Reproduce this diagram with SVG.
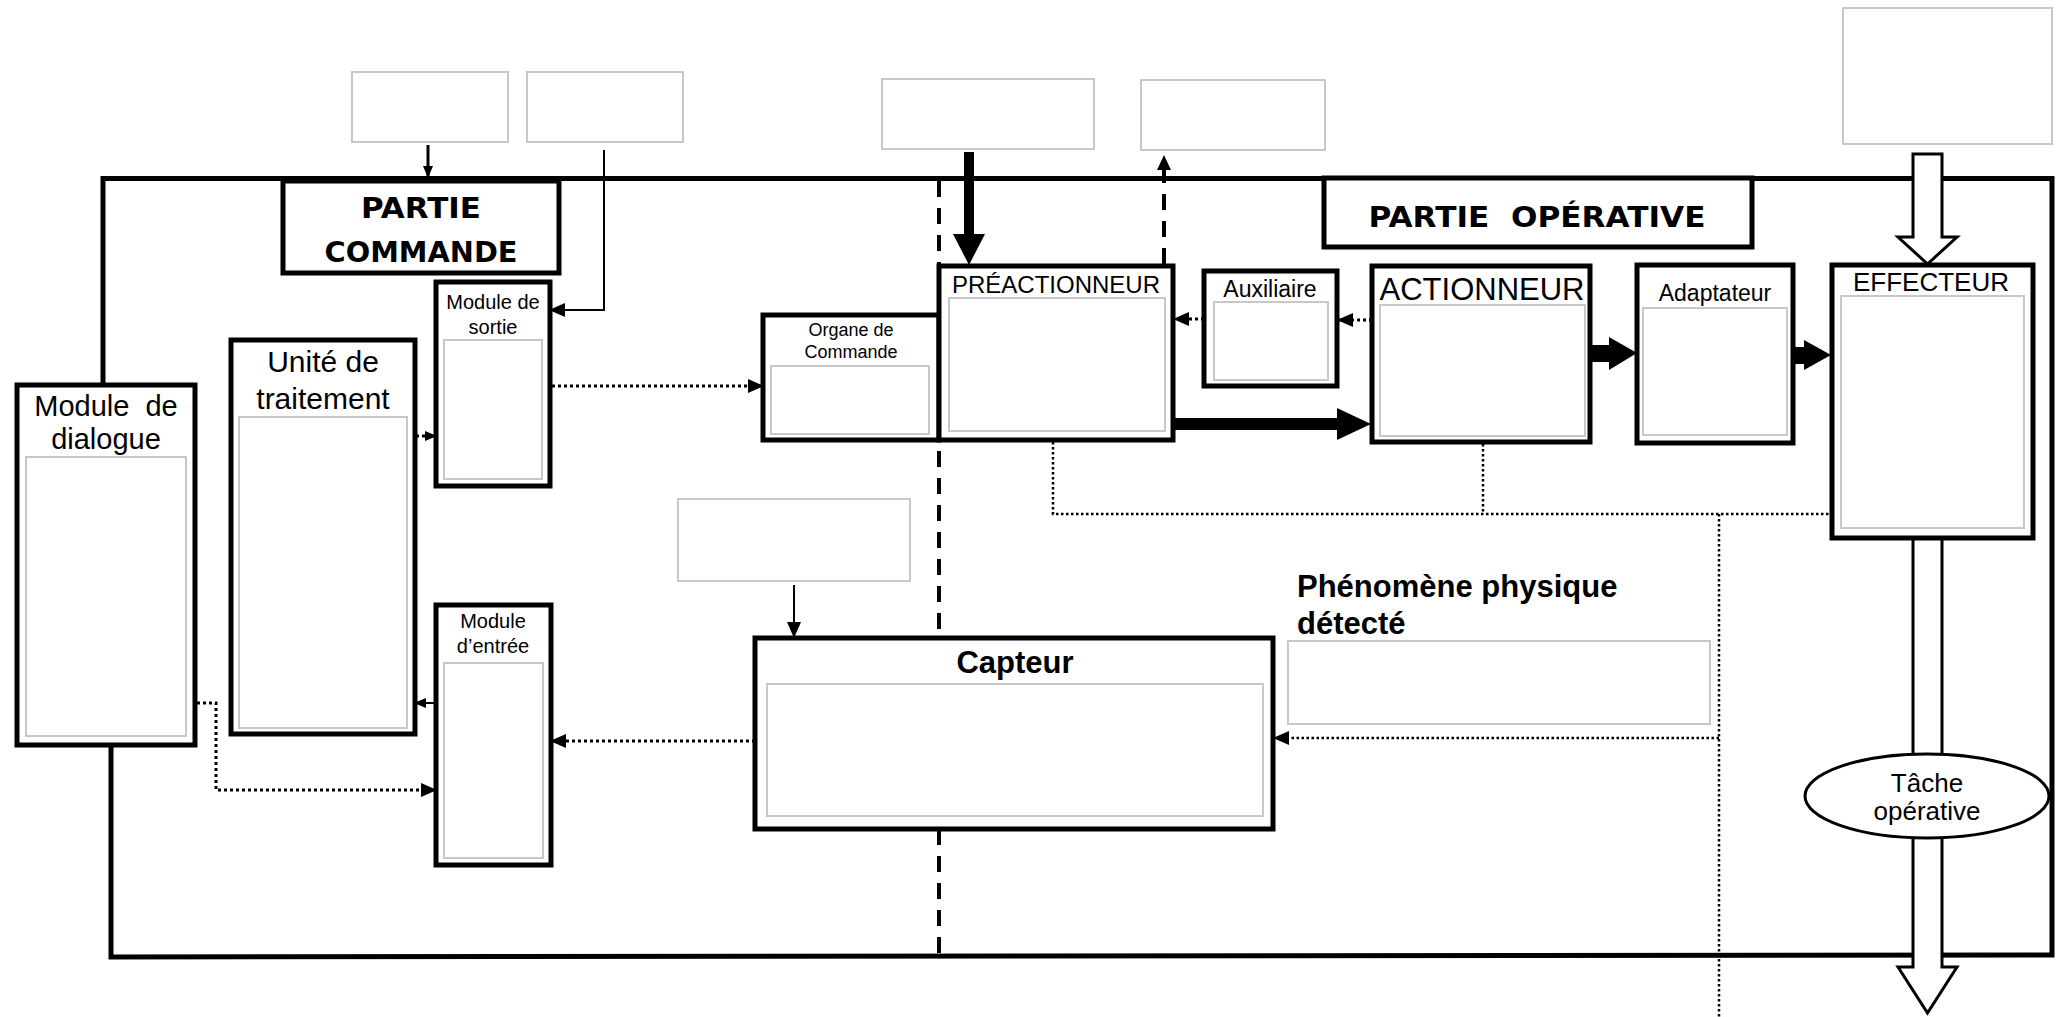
<svg xmlns="http://www.w3.org/2000/svg" width="2067" height="1017" viewBox="0 0 2067 1017">
<defs>
<style>
.node{fill:#fff;stroke:#000;stroke-width:5}
.inner{fill:none;stroke:#c8c8c8;stroke-width:2}
.gbox{fill:#fff;stroke:#c8c8c8;stroke-width:2}
.t{font-family:"Liberation Sans",Arial,sans-serif;fill:#000;text-anchor:middle}
.tb{font-family:"Liberation Sans",Arial,sans-serif;font-weight:bold;fill:#000}
.title{font-family:"DejaVu Sans","Liberation Sans",sans-serif;font-weight:bold;fill:#000;text-anchor:middle}
.frame{fill:none;stroke:#000;stroke-width:5}
.dot{fill:none;stroke:#000;stroke-width:3;stroke-dasharray:3 3}
.dot2{fill:none;stroke:#000;stroke-width:2.5;stroke-dasharray:2.5 2.5}
.dash{fill:none;stroke:#000;stroke-width:4;stroke-dasharray:16 11}
.solid{fill:none;stroke:#000;stroke-width:2}
.solid3{fill:none;stroke:#000;stroke-width:3}
.fat{fill:#000;stroke:none}
.hollow{fill:#fff;stroke:#000;stroke-width:3}
</style>
<marker id="ah" markerUnits="userSpaceOnUse" viewBox="0 0 16 16" markerWidth="16" markerHeight="16" refX="15" refY="8" orient="auto"><path d="M0,1 L16,8 L0,15 z"/></marker>
<marker id="ahs" markerUnits="userSpaceOnUse" viewBox="0 0 12 12" markerWidth="12" markerHeight="12" refX="11" refY="6" orient="auto"><path d="M0,1 L12,6 L0,11 z"/></marker>
</defs>

<g id="frame">
<path class="frame" d="M103,385 L103,178.5 L2052,178.5 L2052,955 L111,957 L111,745"/>
</g>

<g id="connectors">
<line class="dash" x1="939" y1="181" x2="939" y2="955"/>
<path class="dash" d="M1164,264 L1164,168"/>
<path d="M1157,170 L1164,155 L1171,170 z"/>
<polygon class="fat" points="964,152 974,152 974,234 985,234 969,265 953,234 964,234"/>
<polygon class="fat" points="1173,418 1337,418 1337,408 1371,424 1337,440 1337,430 1173,430"/>
<polygon class="fat" points="1590,345 1609,345 1609,337 1637,353 1609,370 1609,362 1590,362"/>
<polygon class="fat" points="1793,347 1804,347 1804,340 1831,355 1804,370 1804,364 1793,364"/>
<line class="solid3" x1="428" y1="145" x2="428" y2="177" marker-end="url(#ahs)"/>
<path class="solid" d="M604,150 L604,310 L550,310" marker-end="url(#ah)"/>
<line class="solid" x1="794" y1="585" x2="794" y2="637" marker-end="url(#ah)"/>
<line class="dot" x1="552" y1="386" x2="763" y2="386" marker-end="url(#ah)"/>
<line class="dot" x1="416" y1="436" x2="436" y2="436" marker-end="url(#ahs)"/>
<line class="solid" x1="436" y1="703" x2="415" y2="703" marker-end="url(#ahs)"/>
<path class="dot" d="M197,703 L216,703 L216,790 L436,790" marker-end="url(#ah)"/>
<line class="dot" x1="755" y1="741" x2="551" y2="741" marker-end="url(#ah)"/>
<line class="dot" x1="1204" y1="319" x2="1174" y2="319" marker-end="url(#ah)"/>
<line class="dot" x1="1372" y1="320" x2="1338" y2="320" marker-end="url(#ah)"/>
<path class="dot2" d="M1053,442 L1053,514 L1831,514"/>
<line class="dot2" x1="1483" y1="444" x2="1483" y2="514"/>
<line class="dot2" x1="1719" y1="514" x2="1719" y2="1017"/>
<line class="dot2" x1="1719" y1="738" x2="1274" y2="738" marker-end="url(#ah)"/>
<polygon class="hollow" points="1913,154 1942,154 1942,237 1957,237 1927.5,264 1898,237 1913,237"/>
<polygon class="hollow" points="1913,538 1942,538 1942,967 1957,967 1927.5,1013 1898,967 1913,967"/>
</g>

<g id="box-top1"><rect class="gbox" x="352" y="72" width="156" height="70"/></g>
<g id="box-top2"><rect class="gbox" x="527" y="72" width="156" height="70"/></g>
<g id="box-top3"><rect class="gbox" x="882" y="79" width="212" height="70"/></g>
<g id="box-top4"><rect class="gbox" x="1141" y="80" width="184" height="70"/></g>
<g id="box-top5"><rect class="gbox" x="1843" y="8" width="209" height="136"/></g>
<g id="box-capteur-in"><rect class="gbox" x="678" y="499" width="232" height="82"/></g>
<g id="box-phenomene"><rect class="gbox" x="1288" y="641" width="422" height="83"/></g>

<g id="partie-commande">
<rect class="node" x="283" y="181" width="276" height="92"/>
<text class="title" x="421" y="218" font-size="29" textLength="120" lengthAdjust="spacingAndGlyphs">PARTIE</text>
<text class="title" x="421" y="262" font-size="29" textLength="193" lengthAdjust="spacingAndGlyphs">COMMANDE</text>
</g>

<g id="partie-operative">
<rect class="node" x="1324" y="178" width="428" height="69"/>
<text class="title" x="1537" y="227" font-size="29" textLength="337" lengthAdjust="spacingAndGlyphs" xml:space="preserve">PARTIE  OPÉRATIVE</text>
</g>

<g id="module-sortie">
<rect class="node" x="436" y="282" width="114" height="204"/>
<rect class="inner" x="444" y="340" width="98" height="139"/>
<text class="t" x="493" y="309" font-size="20">Module de</text>
<text class="t" x="493" y="334" font-size="20">sortie</text>
</g>

<g id="unite-traitement">
<rect class="node" x="231" y="340" width="184" height="394"/>
<rect class="inner" x="239" y="417" width="168" height="311"/>
<text class="t" x="323" y="372" font-size="30">Unité de</text>
<text class="t" x="323" y="409" font-size="30">traitement</text>
</g>

<g id="module-dialogue">
<rect class="node" x="17" y="385" width="178" height="360"/>
<rect class="inner" x="26" y="457" width="160" height="279"/>
<text class="t" x="106" y="416" font-size="29" xml:space="preserve">Module  de</text>
<text class="t" x="106" y="449" font-size="29">dialogue</text>
</g>

<g id="module-entree">
<rect class="node" x="436" y="605" width="115" height="260"/>
<rect class="inner" x="444" y="663" width="99" height="195"/>
<text class="t" x="493" y="628" font-size="20">Module</text>
<text class="t" x="493" y="653" font-size="20">d’entrée</text>
</g>

<g id="organe-commande">
<rect class="node" x="763" y="315" width="176" height="125"/>
<rect class="inner" x="771" y="366" width="158" height="68"/>
<text class="t" x="851" y="336" font-size="18">Organe de</text>
<text class="t" x="851" y="358" font-size="18">Commande</text>
</g>

<g id="preactionneur">
<rect class="node" x="939" y="266" width="234" height="174"/>
<rect class="inner" x="949" y="298" width="216" height="133"/>
<text class="t" x="1056" y="293" font-size="24">PRÉACTIONNEUR</text>
</g>

<g id="auxiliaire">
<rect class="node" x="1204" y="271" width="133" height="115"/>
<rect class="inner" x="1214" y="302" width="114" height="78"/>
<text class="t" x="1270" y="297" font-size="23">Auxiliaire</text>
</g>

<g id="actionneur">
<rect class="node" x="1372" y="266" width="218" height="176"/>
<rect class="inner" x="1380" y="305" width="205" height="131"/>
<text class="t" x="1482" y="300" font-size="31">ACTIONNEUR</text>
</g>

<g id="adaptateur">
<rect class="node" x="1637" y="265" width="156" height="178"/>
<rect class="inner" x="1643" y="308" width="144" height="127"/>
<text class="t" x="1715" y="301" font-size="23">Adaptateur</text>
</g>

<g id="effecteur">
<rect class="node" x="1832" y="265" width="201" height="273"/>
<rect class="inner" x="1841" y="296" width="183" height="232"/>
<text class="t" x="1931" y="291" font-size="26">EFFECTEUR</text>
</g>

<g id="capteur">
<rect class="node" x="755" y="638" width="518" height="191"/>
<rect class="inner" x="767" y="684" width="496" height="132"/>
<text class="tb" x="1015" y="673" font-size="31" text-anchor="middle">Capteur</text>
</g>

<g id="phenomene-label">
<text class="tb" x="1297" y="597" font-size="31">Phénomène physique</text>
<text class="tb" x="1297" y="634" font-size="31">détecté</text>
</g>

<g id="tache-operative">
<ellipse cx="1927" cy="796" rx="122" ry="42" fill="#fff" stroke="#000" stroke-width="3"/>
<text class="t" x="1927" y="792" font-size="26">Tâche</text>
<text class="t" x="1927" y="820" font-size="26">opérative</text>
</g>
</svg>
